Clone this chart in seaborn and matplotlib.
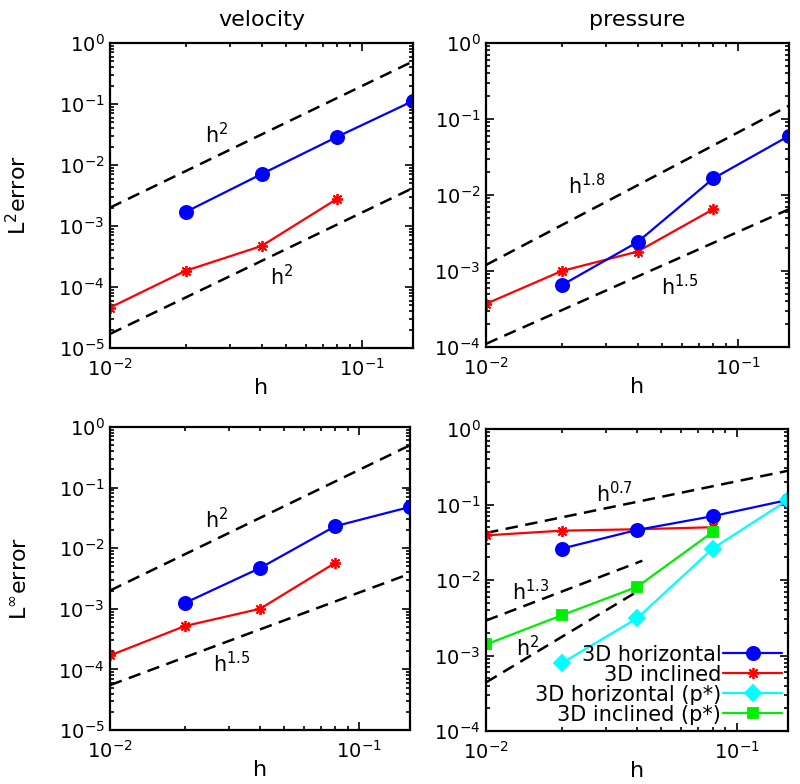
import numpy as np
import matplotlib
matplotlib.use('Agg')
import matplotlib.pyplot as plt
import seaborn as sns
from matplotlib.ticker import LogLocator, NullFormatter

# -------------------------------
# Data
# -------------------------------
h_horiz = [0.02, 0.04, 0.08, 0.16]
h_incl = [0.01, 0.02, 0.04, 0.08]

vel_l2_horiz = [1.7e-3, 7.1e-3, 2.9e-2, 0.112]
vel_l2_incl = [4.6e-5, 1.85e-4, 4.7e-4, 2.8e-3]
p_l2_horiz = [6.5e-4, 2.4e-3, 1.65e-2, 0.060]
p_l2_incl = [3.7e-4, 1.0e-3, 1.8e-3, 6.5e-3]

vel_linf_horiz = [1.25e-3, 4.7e-3, 2.3e-2, 0.048]
vel_linf_incl = [1.7e-4, 5.2e-4, 1.0e-3, 5.7e-3]
p_linf_horiz = [0.026, 0.046, 0.070, 0.115]
p_linf_incl = [0.039, 0.045, 0.047, 0.050]
p_linf_horiz_star = [7.9e-4, 3.1e-3, 0.026, 0.115]
p_linf_incl_star = [1.4e-3, 3.4e-3, 8.1e-3, 0.043]

# reference slope lines: (x endpoints, y endpoints, label, label x, label y)
ref_vel_l2 = [([0.01, 0.16], [2.0e-3, 0.50], 'h$^{2}$', 0.0266, 0.032),
              ([0.01, 0.16], [1.7e-5, 4.2e-3], 'h$^{2}$', 0.0483, 1.5e-4)]
ref_p_l2 = [([0.01, 0.16], [1.2e-3, 0.15], 'h$^{1.8}$', 0.0252, 0.0132),
            ([0.01, 0.16], [1.1e-4, 6.5e-3], 'h$^{1.5}$', 0.059, 6.3e-4)]
ref_vel_linf = [([0.01, 0.16], [2.0e-3, 0.50], 'h$^{2}$', 0.0269, 0.030),
                ([0.01, 0.16], [5.5e-5, 3.8e-3], 'h$^{1.5}$', 0.0308, 1.23e-4)]
ref_p_linf = [([0.01, 0.16], [0.042, 0.28], 'h$^{0.7}$', 0.0323, 0.141),
              ([0.01, 0.042], [2.9e-3, 0.018], 'h$^{1.3}$', 0.0151, 7.1e-3),
              ([0.01, 0.04], [4.4e-4, 7.0e-3], 'h$^{2}$', 0.0146, 1.26e-3)]

# -------------------------------
# Style
# -------------------------------
sns.set_theme(style='ticks')
plt.rcParams['font.family'] = ['DejaVu Sans']
plt.rcParams['mathtext.default'] = 'regular'
plt.rcParams['axes.linewidth'] = 1.6
plt.rcParams['text.color'] = 'black'
plt.rcParams['axes.labelcolor'] = 'black'

FS_TICK = 14
FS_LAB = 16
FS_TXT = 15
asterisk = (8, 2, 0)

fig = plt.figure(figsize=(8, 7.84), dpi=100)
W, H = 800, 784


def make_ax(left, top, right, bottom):
    return fig.add_axes([left / W, 1 - bottom / H, (right - left) / W, (bottom - top) / H])


ax_tl = make_ax(110, 43, 413, 348)
ax_tr = make_ax(486, 43, 789, 347)
ax_bl = make_ax(110, 427, 410, 730)
ax_br = make_ax(486, 429, 788, 731)


def series(ax, x, y, color, marker, ms, label=None):
    sns.lineplot(x=x, y=y, ax=ax, color=color, marker=marker, markersize=ms,
                 markeredgecolor=color, markerfacecolor=color, markeredgewidth=1.3,
                 linewidth=1.6, label=label, legend=False, sort=False)


def refs(ax, lines):
    for xs, ys, lab, tx, ty in lines:
        ax.plot(xs, ys, color='black', linewidth=1.8, linestyle=(0, (5, 3)))
        ax.text(tx, ty, lab, fontsize=FS_TXT, ha='center', va='center', color='black')


def style(ax, ylim, ylabel=None, title=None):
    ax.set_xscale('log')
    ax.set_yscale('log')
    ax.set_xlim(0.01, 0.16)
    ax.set_ylim(*ylim)
    ax.xaxis.set_major_locator(LogLocator(base=10))
    ax.yaxis.set_major_locator(LogLocator(base=10))
    ax.xaxis.set_minor_locator(LogLocator(base=10, subs=np.arange(2, 10)))
    ax.yaxis.set_minor_locator(LogLocator(base=10, subs=np.arange(2, 10)))
    ax.xaxis.set_minor_formatter(NullFormatter())
    ax.yaxis.set_minor_formatter(NullFormatter())
    ax.tick_params(which='both', direction='in', top=True, right=True,
                   labelsize=FS_TICK, colors='black', width=1.2)
    ax.tick_params(which='major', length=6, pad=4)
    ax.tick_params(axis='x', which='major', pad=7)
    ax.tick_params(which='minor', length=3)
    for s in ax.spines.values():
        s.set_visible(True)
        s.set_color('black')
    ax.set_xlabel('h', fontsize=FS_LAB)
    ax.xaxis.set_label_coords(0.5, -0.10)
    if ylabel:
        ax.set_ylabel(ylabel, fontsize=FS_LAB)
        ax.yaxis.set_label_coords(-0.265, 0.5)
    else:
        ax.set_ylabel('')
    if title:
        ax.set_title(title, fontsize=FS_LAB, pad=12, color='black')
    ax.set_facecolor('white')


# top-left: velocity L2
refs(ax_tl, ref_vel_l2)
series(ax_tl, h_horiz, vel_l2_horiz, '#0000ff', 'o', 9.5)
series(ax_tl, h_incl, vel_l2_incl, '#ff0000', asterisk, 8)
style(ax_tl, (1e-5, 1), 'L$^{2}$error', 'velocity')

# top-right: pressure L2
refs(ax_tr, ref_p_l2)
series(ax_tr, h_incl, p_l2_incl, '#ff0000', asterisk, 8)
series(ax_tr, h_horiz, p_l2_horiz, '#0000ff', 'o', 9.5)
style(ax_tr, (1e-4, 1), None, 'pressure')

# bottom-left: velocity Linf
refs(ax_bl, ref_vel_linf)
series(ax_bl, h_horiz, vel_linf_horiz, '#0000ff', 'o', 9.5)
series(ax_bl, h_incl, vel_linf_incl, '#ff0000', asterisk, 8)
style(ax_bl, (1e-5, 1), 'L$^{\\infty}$error')

# bottom-right: pressure Linf
refs(ax_br, ref_p_linf)
series(ax_br, h_incl, p_linf_incl, '#ff0000', asterisk, 8, '3D inclined')
series(ax_br, h_horiz, p_linf_horiz, '#0000ff', 'o', 9.5, '3D horizontal')
series(ax_br, h_horiz, p_linf_horiz_star, '#00ffff', 'D', 8, '3D horizontal (p*)')
series(ax_br, h_incl, p_linf_incl_star, '#00ee00', 's', 7.5, '3D inclined (p*)')
style(ax_br, (1e-4, 1))

handles, labels = ax_br.get_legend_handles_labels()
order = ['3D horizontal', '3D inclined', '3D horizontal (p*)', '3D inclined (p*)']
hl = dict(zip(labels, handles))
leg = ax_br.legend([hl[k] for k in order], order, loc='lower right', frameon=False,
                   fontsize=FS_TXT, markerfirst=False, handlelength=2.8, handletextpad=0.1,
                   labelspacing=0.0, borderaxespad=0.1, borderpad=0.2)
for t in leg.get_texts():
    t.set_color('black')

fig.savefig('out.png', dpi=100, facecolor='white')
